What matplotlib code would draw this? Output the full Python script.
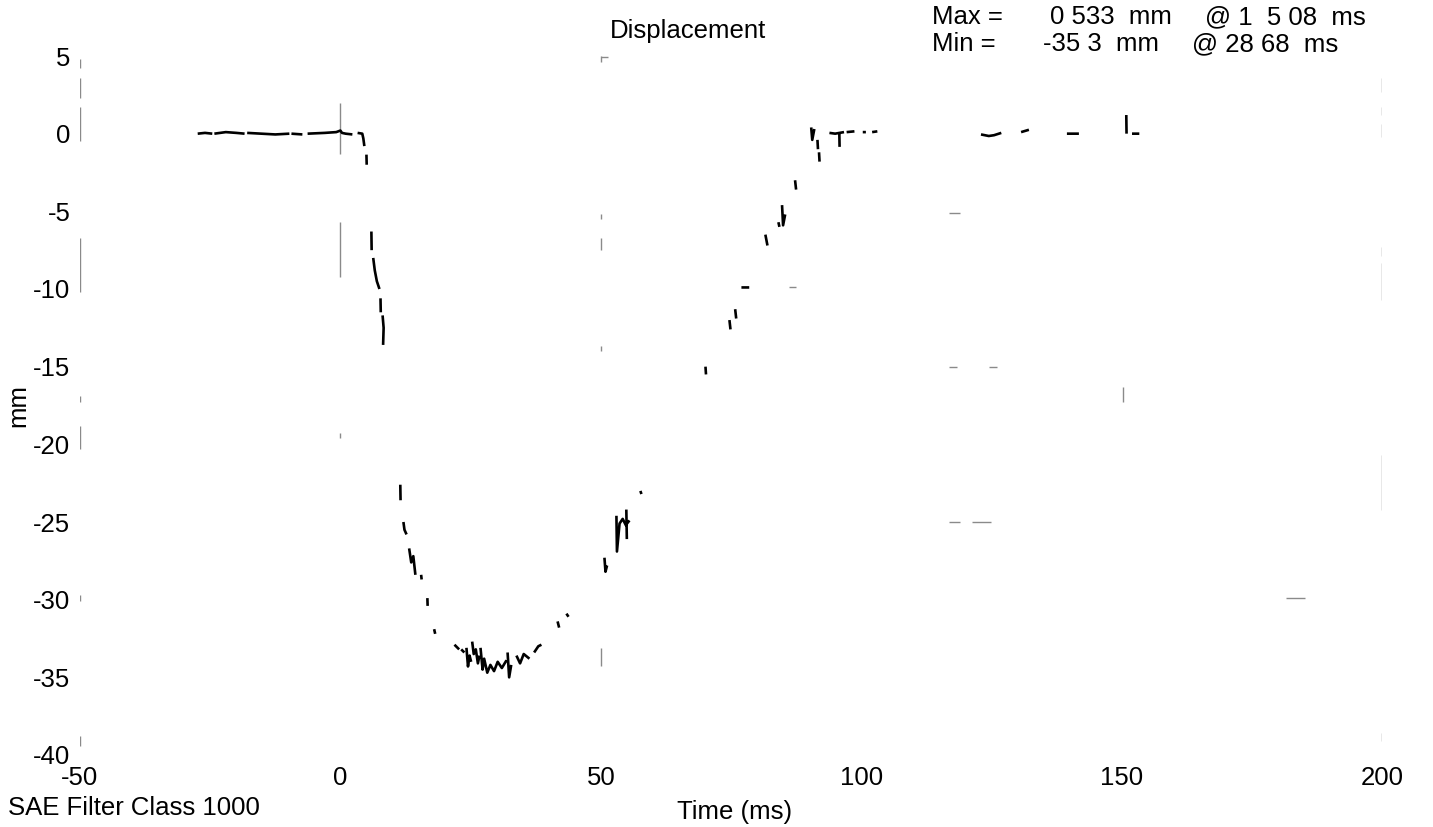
import numpy as np
import matplotlib
matplotlib.use("Agg")
import matplotlib.pyplot as plt

plt.rcParams['font.family'] = ['Liberation Sans', 'DejaVu Sans']

# ---- data (broken trace, gaps = NaN) ----
N = np.nan
trace_t = [
    -27.4, -26.0, -24.6, N,
    -24.2, -22.0, -20.0, -18.4, N,
    -17.9, -15.0, -12.5, -9.8, N,
    -9.4, -7.3, N,
    -6.3, -3.0, -0.8, 0.0, 0.3, 1.0, 2.3, N,
    3.3, 4.2, 4.4, 4.6, N,
    5.0, 5.05, N,
    5.95, 6.0, N,
    6.3, 6.6, 7.0, 7.5, N,
    7.7, 7.75, N,
    8.1, 8.3, 8.2, N,
    11.5, 11.55, N,
    12.1, 12.3, 12.7, N,
    13.2, 13.6, 14.0, 14.4, N,
    15.5, 15.6, N,
    16.7, 16.75, N,
    18.0, 18.2, N,
    21.9, 22.8, N,
    23.2, 23.8, N,
    24.2, 24.5, 24.8, 25.1, N,
    25.3, 25.6, 26.0, 26.4, 26.7, N,
    26.9, 27.3, 27.6, 28.2, 28.8, 29.5, 30.2, 31.0, 31.9, N,
    32.1, 32.4, 32.8, N,
    33.8, 34.5, 35.2, 36.3, N,
    37.2, 38.0, 38.6, N,
    41.7, 42.0, N,
    43.4, 43.8, N,
    50.7, 50.9, 51.2, N,
    53.0, 53.1, 53.6, 54.2, 54.8, 55.5, N,
    54.9, 55.0, N,
    57.6, 57.8, N,
    70.1, 70.2, N,
    74.7, 74.9, N,
    75.8, 76.0, N,
    77.0, 77.8, 78.5, N,
    81.6, 82.0, N,
    84.1, 84.3, N,
    84.8, 85.0, 85.4, N,
    87.3, 87.5, N,
    90.4, 90.6, 91.0, N,
    91.6, 91.7, N,
    91.9, 92.0, N,
    93.9, 95.0, 95.8, 96.7, N,
    95.8, 95.85, N,
    97.2, 98.7, N,
    100.3, 100.9, N,
    102.1, 103.1, N,
    123.0, 124.5, 125.5, 126.9, N,
    130.7, 132.2, N,
    139.5, 141.8, N,
    150.9, 150.95, N,
    152.0, 153.4,
]
trace_mm = [
    0.0, 0.05, 0.0, N,
    0.0, 0.1, 0.05, 0.0, N,
    0.05, 0.0, -0.05, 0.0, N,
    0.0, -0.05, N,
    0.0, 0.05, 0.1, 0.2, 0.05, 0.0, -0.05, N,
    0.05, 0.0, -0.3, -0.8, N,
    -1.35, -2.0, N,
    -6.3, -7.5, N,
    -8.0, -8.8, -9.5, -10.0, N,
    -10.6, -11.5, N,
    -11.7, -12.5, -13.6, N,
    -22.6, -23.6, N,
    -25.0, -25.5, -25.8, N,
    -26.7, -27.6, -27.2, -28.4, N,
    -28.4, -28.7, N,
    -29.9, -30.4, N,
    -31.9, -32.2, N,
    -32.9, -33.2, N,
    -33.2, -33.4, N,
    -33.1, -34.3, -33.6, -34.0, N,
    -32.7, -33.5, -33.2, -34.1, -33.6, N,
    -33.1, -34.5, -33.8, -34.7, -34.2, -34.6, -34.0, -34.4, -33.9, N,
    -33.4, -35.0, -34.2, N,
    -33.6, -34.1, -33.5, -33.8, N,
    -33.4, -33.0, -32.9, N,
    -31.4, -31.8, N,
    -30.9, -31.1, N,
    -27.3, -28.2, -27.8, N,
    -24.6, -26.9, -25.1, -24.8, -25.2, -24.9, N,
    -24.2, -26.1, N,
    -23.0, -23.2, N,
    -15.0, -15.5, N,
    -12.0, -12.6, N,
    -11.3, -11.9, N,
    -9.9, -9.9, -9.9, N,
    -6.5, -7.2, N,
    -5.7, -6.0, N,
    -4.6, -5.9, -5.2, N,
    -3.0, -3.6, N,
    0.4, -0.4, 0.3, N,
    -0.4, -1.0, N,
    -1.2, -1.8, N,
    0.05, 0.0, 0.05, 0.1, N,
    0.0, -0.85, N,
    0.1, 0.15, N,
    0.1, 0.1, N,
    0.1, 0.15, N,
    -0.05, -0.15, -0.1, 0.05, N,
    0.1, 0.25, N,
    0.0, 0.0, N,
    1.2, 0.0, N,
    0.0, 0.0,
]

# faint remnants of frame / grid lines (vertical: t, top, bottom)
vfrag_t   = [-50, -50, -50, -50, -50, -50, -50, -50,
             0, 0, 0,
             50, 50, 50, 50, 50,
             150.3,
             200, 200, 200, 200, 200, 200, 200]
vfrag_top = [4.8, 3.6, 1.7, -6.7, -16.9, -18.8, -29.7, -38.8,
             2.0, -5.7, -19.3,
             5.0, -5.2, -6.7, -13.7, -33.1,
             -16.3,
             3.6, 1.7, 0.6, -7.3, -8.3, -20.7, -38.6]
vfrag_bot = [4.2, 2.3, -0.5, -10.2, -17.3, -20.3, -30.1, -39.4,
             -1.3, -9.2, -19.6,
             4.6, -5.5, -7.5, -14.0, -34.3,
             -17.3,
             2.7, 1.2, -0.2, -7.9, -10.7, -24.2, -39.1]
# horizontal remnants: mm, t start, t end
hfrag_mm = [-5.1, -15.0, -15.0, -25.0, -25.0, -29.9, -9.9, 4.95]
hfrag_t0 = [116.9, 116.9, 124.6, 116.9, 121.3, 181.6, 86.2, 50.0]
hfrag_t1 = [119.0, 118.4, 126.1, 119.0, 125.0, 185.2, 87.4, 51.3]

x_ticks = [-50, 0, 50, 100, 150, 200]
y_ticks = [5, 0, -5, -10, -15, -20, -25, -30, -35, -40]

FS = 18.5
W, H = 1433, 827
fig = plt.figure(figsize=(W / 100, H / 100), dpi=100)
ax = fig.add_axes([80 / W, 1 - 755 / H, 1302 / W, 699 / H])

ax.vlines(vfrag_t, vfrag_bot, vfrag_top, colors='#8a8a8a', linewidth=1.0)
ax.hlines(hfrag_mm, hfrag_t0, hfrag_t1, colors='#8a8a8a', linewidth=1.0)
ax.plot(trace_t, trace_mm, color='black', linewidth=1.9, solid_capstyle='butt')

ax.set_xlim(-50, 200)
ax.set_ylim(-40, 5)
ax.set_xticks(x_ticks)
ax.set_yticks(y_ticks)
ax.set_xticklabels([str(v) for v in x_ticks])
ax.set_yticklabels([str(v) for v in y_ticks])
ax.tick_params(axis='both', length=0, labelsize=FS)
ax.tick_params(axis='y', pad=7)
ax.tick_params(axis='x', pad=8)
for s in ax.spines.values():
    s.set_visible(False)

ax.set_ylabel('mm', fontsize=FS, labelpad=2)
ax.set_xlabel('Time (ms)', fontsize=FS)
ax.xaxis.set_label_coords(0.503, -0.064)

def ftext(x, y, s, **kw):
    fig.text(x / W, 1 - y / H, s, fontsize=FS, va='baseline', **kw)

ftext(688, 38, 'Displacement', ha='center')
ftext(932, 24, 'Max =', ha='left')
ftext(1050, 24, '0 533  mm', ha='left')
ftext(1205, 24, '@ 1  5 08  ms', ha='left')
ftext(932, 51, 'Min =', ha='left')
ftext(1043, 51, '-35 3  mm', ha='left')
ftext(1192, 51, '@ 28 68  ms', ha='left')
ftext(8, 815, 'SAE Filter Class 1000', ha='left')

fig.savefig('out.png', dpi=100)
